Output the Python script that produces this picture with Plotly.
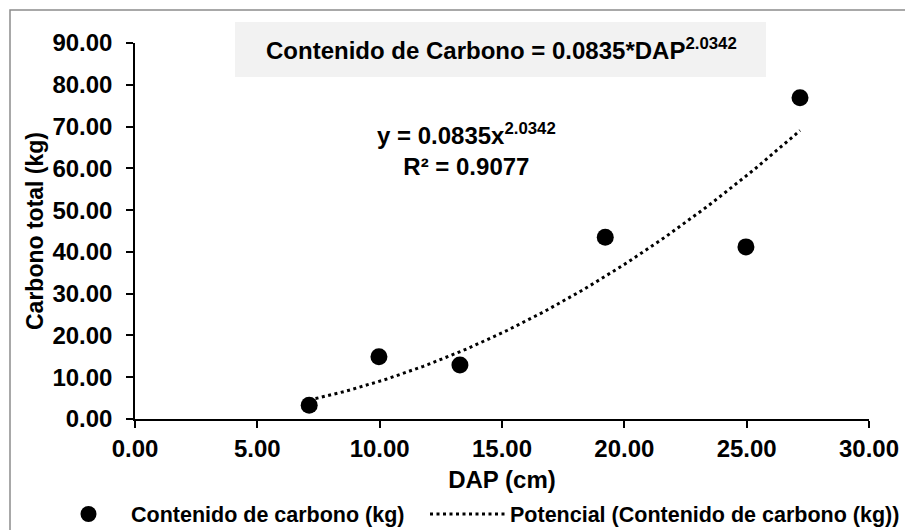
import numpy as np
import plotly.graph_objects as go

# Data
dap = [7.12, 9.97, 13.28, 19.22, 24.97, 27.18]
carbono = [3.3, 14.9, 12.9, 43.5, 41.2, 76.9]
coef_a = 0.0835
coef_b = 2.0342
x_ticks = [0, 5, 10, 15, 20, 25, 30]
y_ticks = [0, 10, 20, 30, 40, 50, 60, 70, 80, 90]

FONT = "Liberation Sans, Arial, sans-serif"

xt = np.linspace(min(dap), max(dap), 100)
yt = coef_a * xt ** coef_b

# plot-area geometry (pixels)
W, H = 905, 530
L, R, T, B = 135, 36, 43, 111
pw, ph = W - L - R, H - T - B
def px(x):
    return (x - L) / pw
def py(y):
    return (H - B - y) / ph

fig = go.Figure()
fig.add_trace(go.Scatter(
    x=dap, y=carbono, mode="markers",
    marker=dict(color="black", size=17),
    name="Contenido de carbono (kg)", legend="legend", showlegend=True,
))
fig.add_trace(go.Scatter(
    x=xt, y=yt, mode="lines",
    line=dict(color="black", width=3, dash="3px,3.5px"),
    name="Potencial (Contenido de carbono (kg))", legend="legend2", showlegend=True,
))

axis_common = dict(
    showgrid=False, zeroline=False, showline=True, linecolor="black", linewidth=1.5,
    ticks="outside", ticklen=7, tickcolor="black", tickwidth=1.5,
    tickformat=".2f", automargin=False,
    tickfont=dict(family=FONT, size=24, color="black", weight="bold"),
)

legend_common = dict(
    orientation="h", xref="container", yref="container",
    xanchor="left", yanchor="middle", itemwidth=75,
    font=dict(family=FONT, size=21.5, color="black", weight="bold"),
    bgcolor="rgba(0,0,0,0)", visible=True,
)

fig.update_layout(
    width=W, height=H,
    margin=dict(l=L, r=R, t=T, b=B),
    paper_bgcolor="white", plot_bgcolor="white",
    font=dict(family=FONT, color="black"),
    xaxis=dict(range=[0, 30], tickvals=x_ticks,
               title=dict(text="DAP (cm)", standoff=24,
                          font=dict(family=FONT, size=24, color="black", weight="bold")),
               **axis_common),
    yaxis=dict(range=[0, 90], tickvals=y_ticks, ticklabelstandoff=9,
               title=dict(text="Carbono total (kg)", standoff=2,
                          font=dict(family=FONT, size=23, color="black", weight="bold")),
               **axis_common),
    showlegend=True,
    legend=dict(x=46 / W, y=1 - 514 / H, **legend_common),
    legend2=dict(x=425 / W, y=1 - 514 / H, **legend_common),
    shapes=[
        dict(type="rect", xref="paper", yref="paper",
             x0=px(235), x1=px(766), y0=py(77), y1=py(22),
             fillcolor="#f2f2f2", line=dict(width=0), layer="below"),
        dict(type="rect", xref="paper", yref="paper",
             x0=px(10), x1=px(930), y0=py(560), y1=py(10),
             fillcolor="rgba(0,0,0,0)", line=dict(color="#8c8c8c", width=1.5)),
    ],
    annotations=[
        dict(xref="paper", yref="paper", x=px(501), y=py(49), xanchor="center", yanchor="middle",
             text="Contenido de Carbono = 0.0835*DAP<sup>2.0342</sup>", showarrow=False,
             font=dict(family=FONT, size=24, color="black", weight="bold")),
        dict(xref="paper", yref="paper", x=px(466), y=py(149), xanchor="center", yanchor="middle",
             text="y = 0.0835x<sup>2.0342</sup><br>R² = 0.9077", showarrow=False,
             font=dict(family=FONT, size=24, color="black", weight="bold")),
    ],
)

fig.write_html("out.html")
